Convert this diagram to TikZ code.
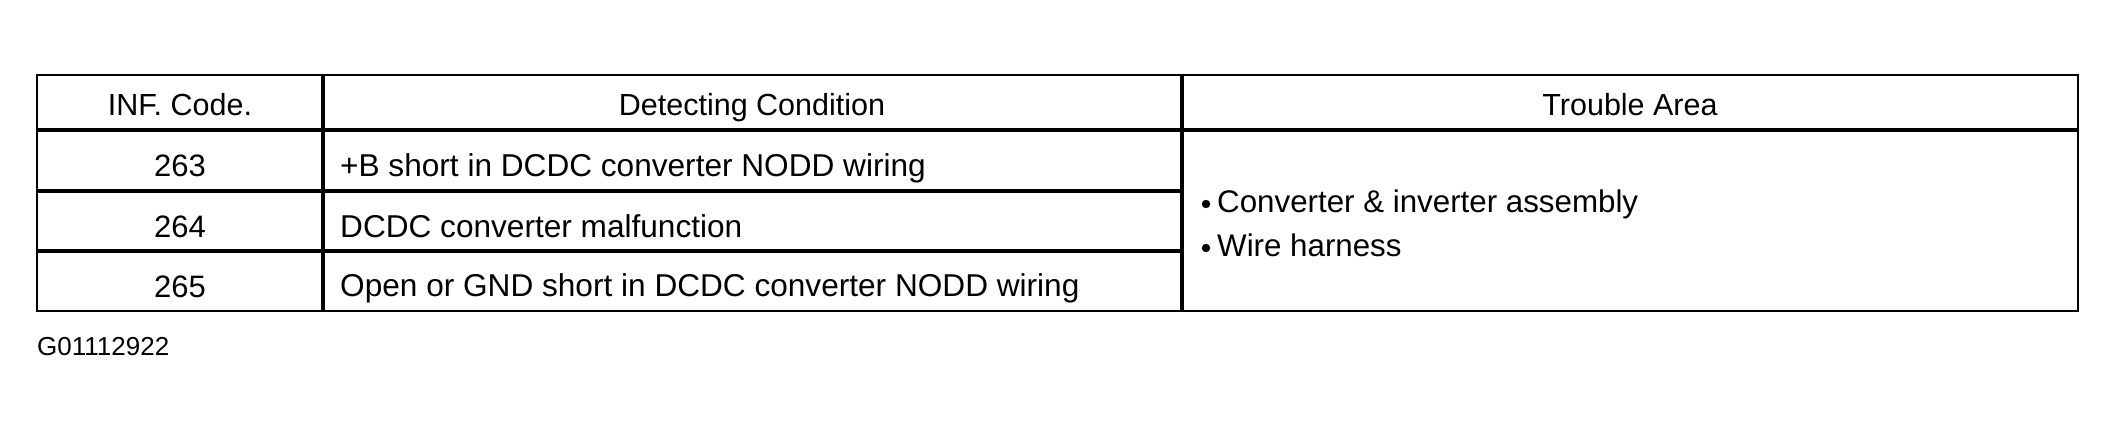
\documentclass[tikz,border=0pt]{standalone}
\usepackage{fontspec}
\setmainfont{Liberation Sans}
\begin{document}
\begin{tikzpicture}[x=1pt,y=-1pt,
  thin border/.style={line width=1.8pt},
  thick rule/.style={line width=4pt},
  hcell/.style={inner sep=0pt,anchor=base,font=\fontsize{30.5pt}{36pt}\selectfont},
  ctext/.style={inner sep=0pt,anchor=base,font=\fontsize{31pt}{36pt}\selectfont},
  ltext/.style={inner sep=0pt,anchor=base west,font=\fontsize{31.6pt}{36pt}\selectfont},
  ttext/.style={inner sep=0pt,anchor=base west,font=\fontsize{31.3pt}{36pt}\selectfont},
  figid/.style={inner sep=0pt,anchor=base west,font=\fontsize{26pt}{30pt}\selectfont}]
\useasboundingbox (0,0) rectangle (2116,431);
% grid
\draw[thick rule] (37,130) -- (2078,130);
\draw[thick rule] (37,191) -- (1182,191);
\draw[thick rule] (37,251) -- (1182,251);
\draw[thick rule] (323,75) -- (323,311);
\draw[thick rule] (1182,75) -- (1182,311);
\draw[thin border] (37,75) rectangle (2078,311);
% header
\node[hcell] (h1) at (180,115) {INF. Code.};
\node[hcell] (h2) at (752,115) {Detecting Condition};
\node[hcell] (h3) at (1630,115) {Trouble Area};
% codes
\node[ctext] (c1) at (180,176) {263};
\node[ctext] (c2) at (180,237) {264};
\node[ctext] (c3) at (180,297) {265};
% conditions
\node[ltext] (d1) at (340,176) {+B short in DCDC converter NODD wiring};
\node[ltext] (d2) at (340,237) {DCDC converter malfunction};
\node[ltext] (d3) at (340,296) {Open or GND short in DCDC converter NODD wiring};
% trouble area
\fill (1206,204) circle (4.2);
\fill (1206,248) circle (4.2);
\node[ttext] (t1) at (1217,212) {Converter \& inverter assembly};
\node[ttext] (t2) at (1217,256) {Wire harness};
% figure id
\node[figid] (gid) at (37,355) {G01112922};
\end{tikzpicture}
\end{document}
